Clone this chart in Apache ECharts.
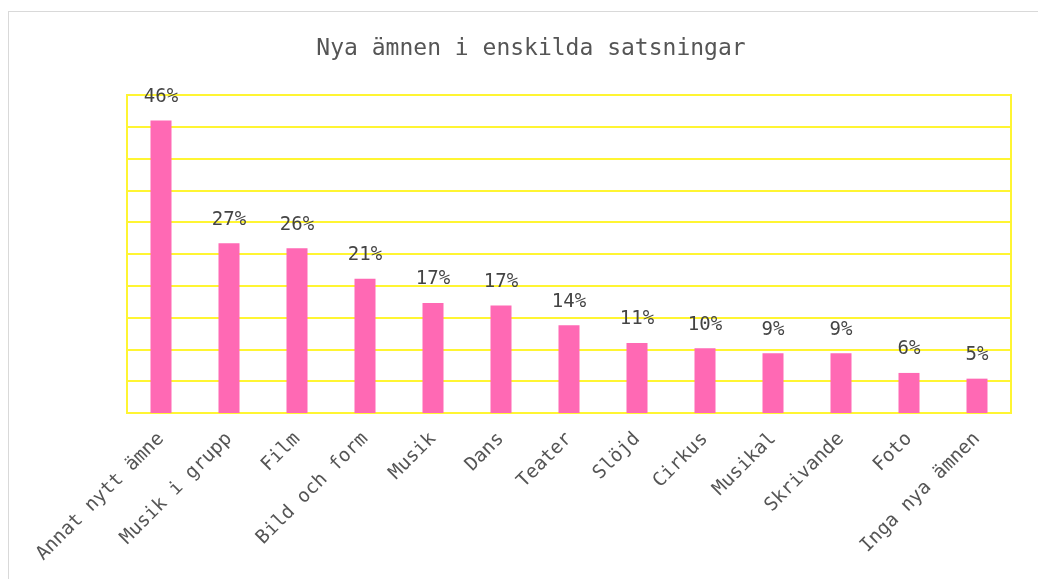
<!DOCTYPE html>
<html>
<head>
<meta charset="utf-8">
<script src="https://cdn.jsdelivr.net/npm/echarts@6/dist/echarts.min.js"></script>
<style>
	html, body { margin: 0; padding: 0; background: #fff; overflow: hidden; }
	#chart {
		position: absolute;
		left: 8px;
		top: 11px;
		width: 1044px;
		height: 600px;
		border: 1px solid #d9d9d9;
	}
</style>
</head>
<body>
<div id="chart"></div>
<script>
	// kategorier och andelar (procent)
	var categories = ['Annat nytt ämne', 'Musik i grupp', 'Film', 'Bild och form', 'Musik', 'Dans',
		'Teater', 'Slöjd', 'Cirkus', 'Musikal', 'Skrivande', 'Foto', 'Inga nya ämnen'];
	var values = [46.0, 26.7, 25.9, 21.1, 17.3, 16.9, 13.8, 11.0, 10.2, 9.4, 9.4, 6.3, 5.4];

	var mono = 'DejaVu Sans Mono';
	var yellow = '#fff533';

	var myChart = echarts.init(document.getElementById('chart'));
	myChart.setOption({
		title: {
			text: 'Nya ämnen i enskilda satsningar',
			left: 'center',
			top: 21,
			textStyle: {
				fontFamily: mono,
				fontSize: 23,
				fontWeight: 'normal',
				color: '#555'
			}
		},
		grid: {
			left: 118,
			top: 83,
			width: 884,
			height: 318,
			show: true,
			borderColor: yellow,
			borderWidth: 2
		},
		xAxis: {
			type: 'category',
			data: categories,
			axisLine: { show: true, lineStyle: { color: yellow, width: 2 } },
			axisTick: { show: false },
			axisLabel: {
				interval: 0,
				rotate: 45,
				margin: 23,
				fontFamily: mono,
				fontSize: 19,
				color: '#555'
			}
		},
		yAxis: {
			type: 'value',
			min: 0,
			max: 50,
			interval: 5,
			axisLabel: { show: false },
			axisTick: { show: false },
			axisLine: { show: true, lineStyle: { color: yellow, width: 2 } },
			splitLine: { lineStyle: { color: yellow, width: 2 } }
		},
		series: [{
			type: 'bar',
			data: values,
			barWidth: 21,
			itemStyle: { color: '#ff69b4' },
			label: {
				show: true,
				position: 'top',
				distance: 14,
				fontFamily: mono,
				fontSize: 19,
				color: '#444',
				formatter: function (p) {
					return Math.round(p.value) + '%';
				}
			}
		}]
	});
</script>
</body>
</html>
